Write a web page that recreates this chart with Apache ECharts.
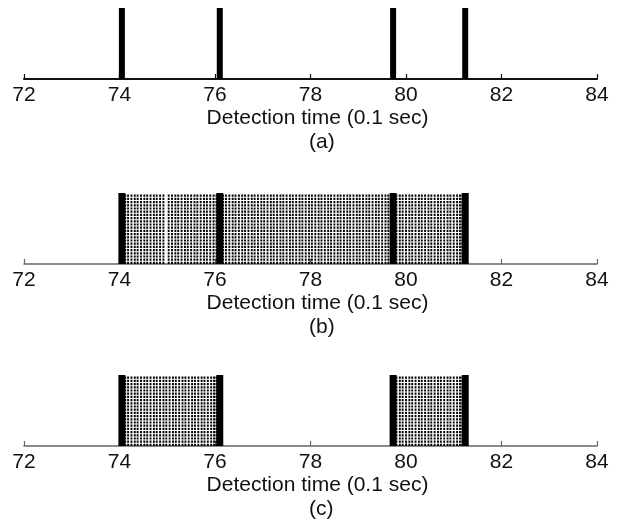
<!DOCTYPE html>
<html>
<head>
<meta charset="utf-8">
<script src="https://cdn.jsdelivr.net/npm/echarts@6/dist/echarts.min.js"></script>
<style>html,body{margin:0;padding:0;background:#fff}#c{width:634px;height:525px}</style>
</head>
<body>
<div id="c"></div>
<script>
const tickValues = [72, 74, 76, 78, 80, 82, 84];
const axisTitle = 'Detection time (0.1 sec)';
const panelLabels = ['(a)', '(b)', '(c)'];

// thick detection edges (same in all panels)
const edgesA = [74.05, 76.1, 79.73, 81.24];
const edgesB = [74.05, 76.1, 79.73, 81.24];
const edgesC = [74.05, 76.1, 79.73, 81.24];

// dashed fill lines, panel (b)
const fillB = [
  74.12, 74.18, 74.25, 74.32, 74.38, 74.45, 74.52, 74.58, 74.65, 74.72, 74.78, 74.85, 74.92,
  75.03, 75.1, 75.17, 75.23, 75.3, 75.37, 75.43, 75.5, 75.57, 75.63, 75.7, 75.77, 75.83, 75.9, 75.97,
  76.03, 76.17, 76.23, 76.3, 76.37, 76.43, 76.5, 76.57, 76.63, 76.7, 76.77, 76.83, 76.9, 76.97,
  77.03, 77.1, 77.17, 77.23, 77.3, 77.37, 77.43, 77.5, 77.57, 77.63, 77.7, 77.77, 77.83, 77.9, 77.97,
  78.03, 78.1, 78.17, 78.23, 78.3, 78.37, 78.43, 78.5, 78.57, 78.63, 78.7, 78.77, 78.83, 78.9, 78.97,
  79.03, 79.1, 79.17, 79.23, 79.3, 79.37, 79.43, 79.5, 79.57, 79.63, 79.8,
  79.87, 79.93, 80.0, 80.07, 80.13, 80.2, 80.27, 80.33, 80.4, 80.47, 80.53, 80.6, 80.67, 80.73, 80.8,
  80.87, 80.93, 81.0, 81.07, 81.13, 81.18
];
// dashed fill lines, panel (c)
const fillC = [
  74.12, 74.18, 74.25, 74.32, 74.38, 74.45, 74.52, 74.58, 74.65, 74.72, 74.78, 74.85, 74.92,
  74.98, 75.05, 75.12, 75.18, 75.25, 75.32, 75.38, 75.45, 75.52, 75.58, 75.65, 75.72, 75.78, 75.85,
  75.92, 75.98, 76.03,
  79.8, 79.87, 79.93, 80.0, 80.07, 80.13, 80.2, 80.27, 80.33, 80.4, 80.47, 80.53, 80.6, 80.67, 80.73,
  80.8, 80.87, 80.93, 81.0, 81.07, 81.13, 81.18
];

const gridTops = [8, 193, 375];
const gridH = 71;
const FONT = 'Liberation Sans, Arial, sans-serif';

function vline(width, dash, topVal, color) {
  return function (params, api) {
    const x = api.value(0);
    const p0 = api.coord([x, 0]);
    const p1 = api.coord([x, topVal]);
    return {
      type: 'line',
      shape: { x1: p0[0], y1: p0[1], x2: p1[0], y2: p1[1] },
      style: { stroke: color, lineWidth: width, lineDash: dash }
    };
  };
}

const grids = [], xAxes = [], yAxes = [], series = [], titles = [];
gridTops.forEach((top, i) => {
  grids.push({ left: 24, right: 37, top: top, height: gridH });
  const axColor = i === 0 ? '#111' : '#666';
  xAxes.push({
    type: 'value', gridIndex: i, min: tickValues[0], max: tickValues[tickValues.length - 1], interval: 2,
    axisLine: { lineStyle: { color: axColor, width: i === 0 ? 2.2 : 1.5 } },
    axisTick: { inside: true, length: 5, lineStyle: { color: axColor, width: 1.2 } },
    axisLabel: { color: '#111', fontSize: 21, fontFamily: FONT, margin: 6 },
    splitLine: { show: false },
    name: axisTitle, nameLocation: 'middle', nameGap: 29,
    nameTextStyle: { color: '#111', fontSize: 21, fontFamily: FONT, padding: [0, 0, 0, 14] }
  });
  yAxes.push({ type: 'value', gridIndex: i, min: 0, max: 1, show: false });
  titles.push({
    text: panelLabels[i], left: 304, top: top + gridH + 48,
    textStyle: { color: '#111', fontSize: 21, fontWeight: 'normal', fontFamily: FONT }
  });
});

const fills = [null, fillB, fillC];
const edges = [edgesA, edgesB, edgesC];
[0, 1, 2].forEach(i => {
  if (fills[i]) {
    series.push({
      type: 'custom', xAxisIndex: i, yAxisIndex: i, silent: true,
      renderItem: vline(1.9, [2.2, 1], 0.99, '#000'),
      data: fills[i].map(v => [v])
    });
  }
  series.push({
    type: 'custom', xAxisIndex: i, yAxisIndex: i, silent: true,
    renderItem: vline(i === 0 ? 6 : 7, null, 1, '#000'),
    data: edges[i].map(v => [v])
  });
});

const chart = echarts.init(document.getElementById('c'), null, { renderer: 'canvas' });
chart.setOption({
  animation: false,
  backgroundColor: '#fff',
  title: titles,
  grid: grids,
  xAxis: xAxes,
  yAxis: yAxes,
  series: series
});
</script>
</body>
</html>
